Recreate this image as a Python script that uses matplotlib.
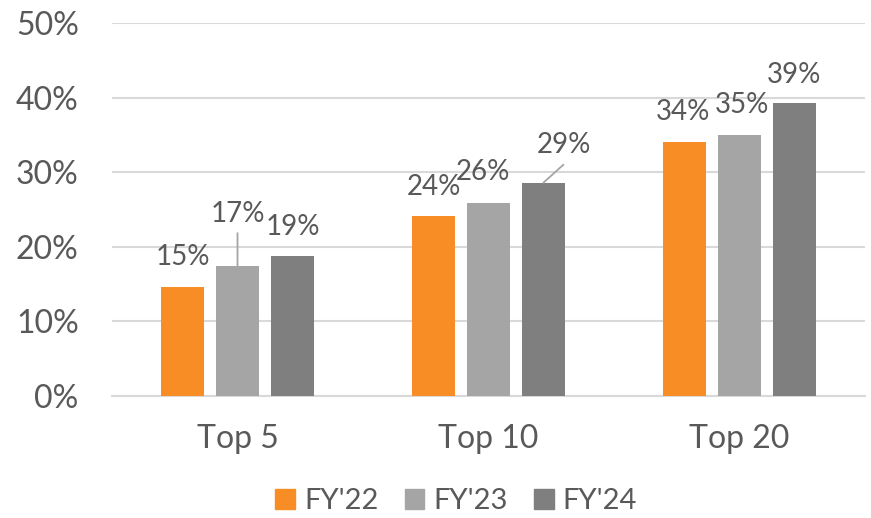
import matplotlib

matplotlib.use("Agg")
import matplotlib.pyplot as plt  # noqa: E402
import numpy as np  # noqa: E402
from matplotlib.patches import Patch  # noqa: E402

plt.rcParams["font.family"] = ["Lato", "DejaVu Sans"]

# --- data ---
categories = ["Top 5", "Top 10", "Top 20"]
series = ["FY'22", "FY'23", "FY'24"]
fy22 = [14.6, 24.1, 34.0]
fy23 = [17.4, 25.9, 35.0]
fy24 = [18.8, 28.6, 39.3]
labels = [["15%", "24%", "34%"],
          ["17%", "26%", "35%"],
          ["19%", "29%", "39%"]]
yticks = [0, 10, 20, 30, 40, 50]

colors = ["#F78D24", "#A5A5A5", "#7F7F7F"]
text_col = "#595959"
grid_col = "#D9D9D9"

# label offsets per series / category from bar top (px: dx, dy to baseline), leader flag
label_offsets = [
    [(0, 22, False), (0, 21, False), (-1, 22, False)],
    [(0, 44, True), (-6, 23, False), (3, 22, False)],
    [(0, 21, False), (20, 30, True), (0, 20, False)],
]

fig = plt.figure(figsize=(8.71, 5.18), dpi=100)
ax = fig.add_axes([112 / 871, 1 - 396 / 518, 753 / 871, 373 / 518])

x = np.arange(len(categories))
width = 0.175
step = 0.219
px2pt = 0.72

for i, vals in enumerate([fy22, fy23, fy24]):
    xs = x + (i - 1) * step
    ax.bar(xs, vals, width=width, color=colors[i], zorder=3)
    for j, (xx, v) in enumerate(zip(xs, vals)):
        dx, dy, leader = label_offsets[i][j]
        ax.annotate(labels[i][j], xy=(xx, v),
                    xytext=(dx * px2pt, dy * px2pt), textcoords="offset points",
                    ha="center", va="baseline", fontsize=20, color=text_col,
                    zorder=4)
        if leader:
            if dx == 0:
                end = (0, (dy - 11) * px2pt)
            else:
                end = (dx * px2pt, (dy - 12) * px2pt)
            ax.annotate("", xy=(xx, v), xytext=end, textcoords="offset points",
                        arrowprops=dict(arrowstyle="-", color="#A5A5A5", lw=1.3,
                                        shrinkA=0, shrinkB=0), zorder=4)

ax.set_xlim(-0.5, 2.5)
ax.set_ylim(0, 50)
ax.set_yticks(yticks)
ax.set_yticklabels([f"{t}%" for t in yticks])
ax.set_xticks(x)
ax.set_xticklabels(categories)
ax.tick_params(axis="both", length=0, labelsize=23, colors=text_col)
ax.tick_params(axis="y", pad=24)
ax.tick_params(axis="x", pad=20)
ax.yaxis.grid(True, color=grid_col, lw=1.5, zorder=0)
for s in ["left", "right", "top"]:
    ax.spines[s].set_visible(False)
ax.spines["bottom"].set_color(grid_col)
ax.spines["bottom"].set_linewidth(1.5)

handles = [Patch(color=c) for c in colors]
fig.legend(handles, series, loc="center", bbox_to_anchor=(456 / 871, 1 - 501 / 518),
           ncol=3, frameon=False, fontsize=21, labelcolor=text_col,
           handlelength=0.68, handleheight=0.68, handletextpad=0.3,
           columnspacing=0.9)

fig.savefig("out.png", dpi=100)
